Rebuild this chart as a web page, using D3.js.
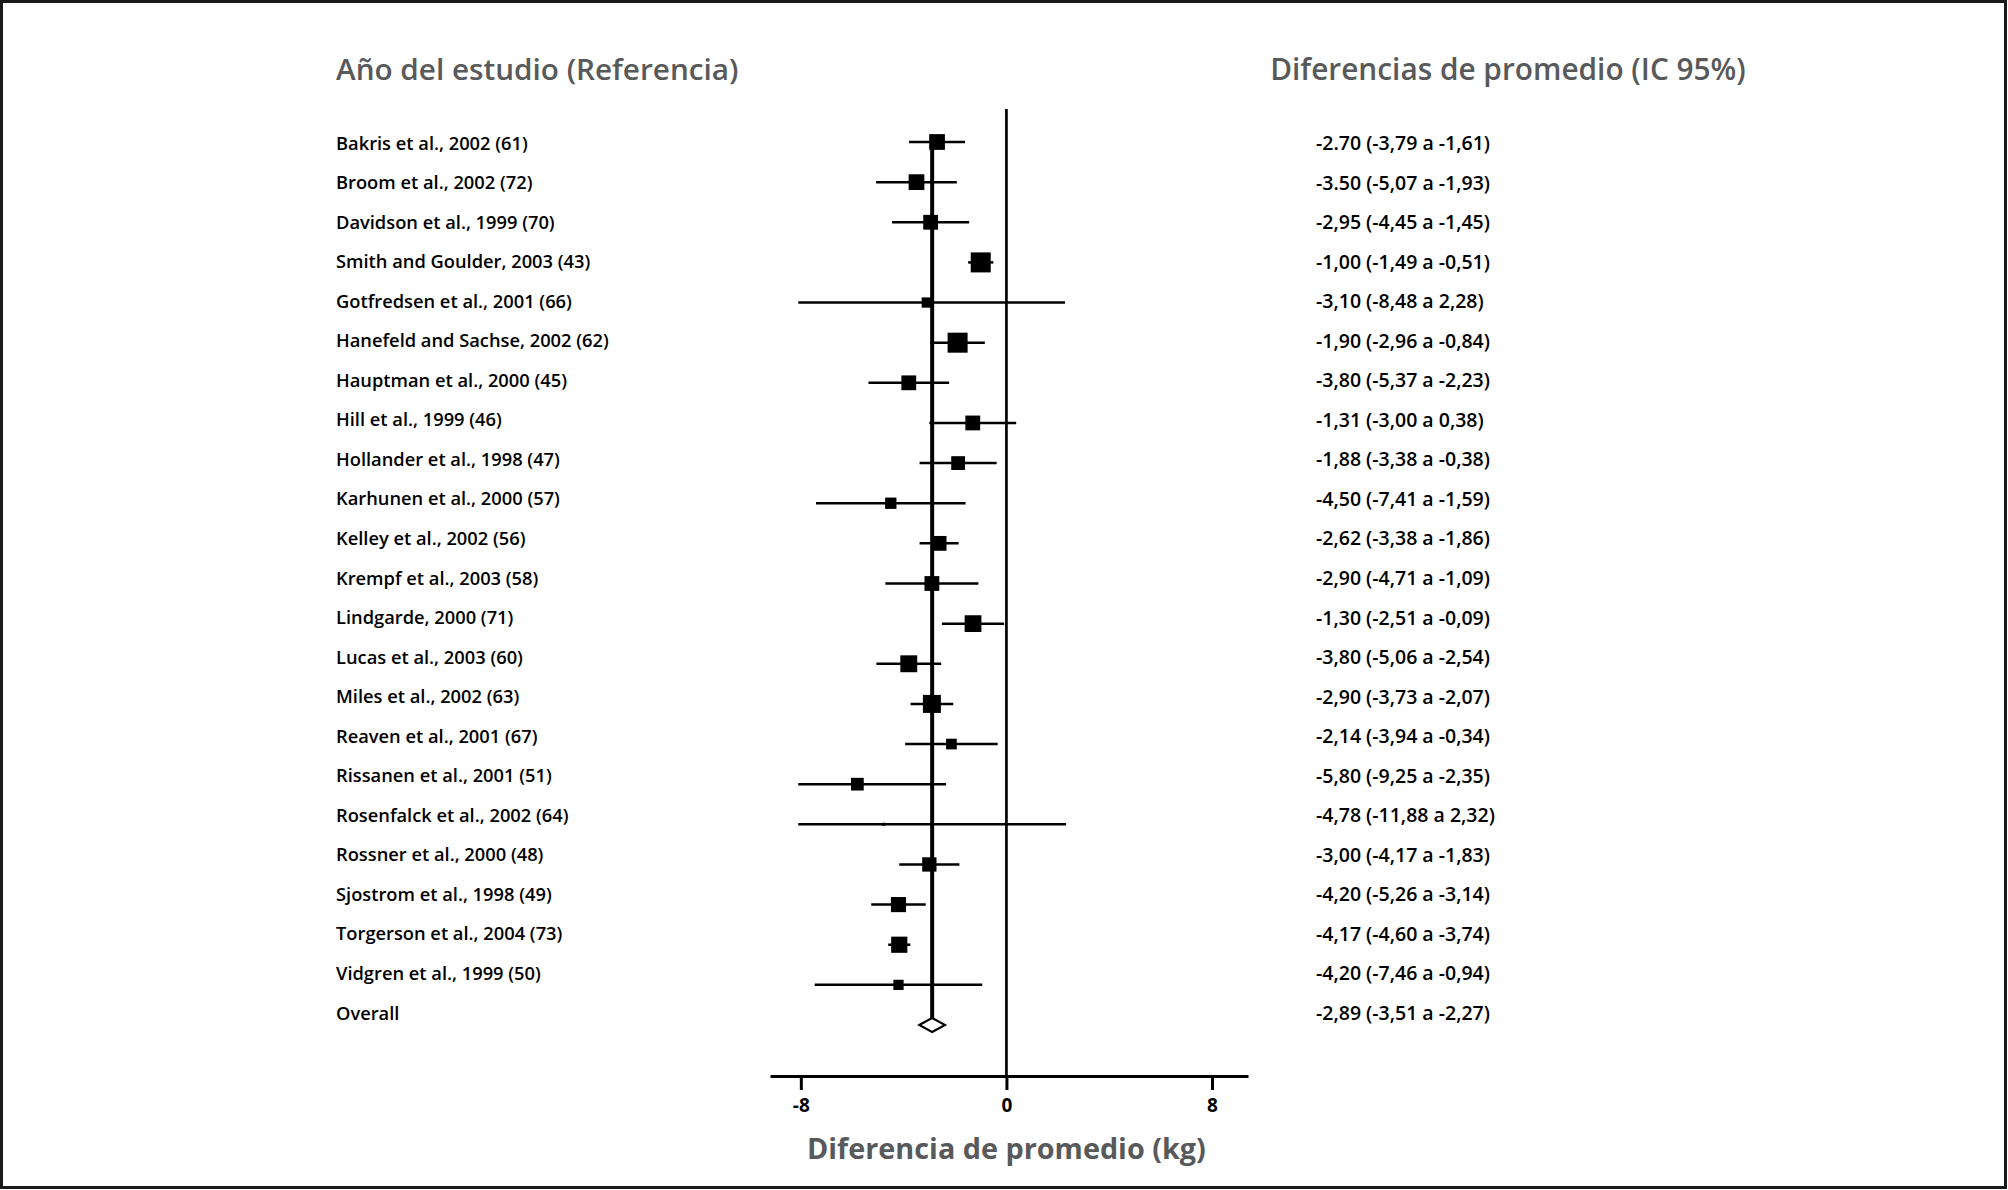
<!DOCTYPE html>
<html>
<head>
<meta charset="utf-8">
<script src="https://cdn.jsdelivr.net/npm/d3@7"></script>
<style>
  html, body { margin: 0; padding: 0; background: #fff; }
  text { font-family: "Open Sans", "Noto Sans", sans-serif; }
</style>
</head>
<body>
<div id="container"></div>
<script>
// studies, top to bottom
const studies = [
  "Bakris et al., 2002 (61)",
  "Broom et al., 2002 (72)",
  "Davidson et al., 1999 (70)",
  "Smith and Goulder, 2003 (43)",
  "Gotfredsen et al., 2001 (66)",
  "Hanefeld and Sachse, 2002 (62)",
  "Hauptman et al., 2000 (45)",
  "Hill et al., 1999 (46)",
  "Hollander et al., 1998 (47)",
  "Karhunen et al., 2000 (57)",
  "Kelley et al., 2002 (56)",
  "Krempf et al., 2003 (58)",
  "Lindgarde, 2000 (71)",
  "Lucas et al., 2003 (60)",
  "Miles et al., 2002 (63)",
  "Reaven et al., 2001 (67)",
  "Rissanen et al., 2001 (51)",
  "Rosenfalck et al., 2002 (64)",
  "Rossner et al., 2000 (48)",
  "Sjostrom et al., 1998 (49)",
  "Torgerson et al., 2004 (73)",
  "Vidgren et al., 1999 (50)",
];
const estimates = [-2.70, -3.50, -2.95, -1.00, -3.10, -1.90, -3.80, -1.31, -1.88, -4.50, -2.62,
  -2.90, -1.30, -3.80, -2.90, -2.14, -5.80, -4.78, -3.00, -4.20, -4.17, -4.20];
const lower = [-3.79, -5.07, -4.45, -1.49, -8.48, -2.96, -5.37, -3.00, -3.38, -7.41, -3.38,
  -4.71, -2.51, -5.06, -3.73, -3.94, -9.25, -11.88, -4.17, -5.26, -4.60, -7.46];
const upper = [-1.61, -1.93, -1.45, -0.51, 2.28, -0.84, -2.23, 0.38, -0.38, -1.59, -1.86,
  -1.09, -0.09, -2.54, -2.07, -0.34, -2.35, 2.32, -1.83, -3.14, -3.74, -0.94];
// box weights (%)
const weights = [5.2, 5.2, 4.6, 8.4, 2.2, 8.4, 4.6, 4.6, 4.0, 2.7, 4.6,
  4.6, 5.9, 6.0, 6.8, 2.4, 3.4, 0.2, 4.3, 4.8, 5.5, 2.2];
const ciLabels = [
  "-2.70 (-3,79 a -1,61)",
  "-3.50 (-5,07 a -1,93)",
  "-2,95 (-4,45 a -1,45)",
  "-1,00 (-1,49 a -0,51)",
  "-3,10 (-8,48 a 2,28)",
  "-1,90 (-2,96 a -0,84)",
  "-3,80 (-5,37 a -2,23)",
  "-1,31 (-3,00 a 0,38)",
  "-1,88 (-3,38 a -0,38)",
  "-4,50 (-7,41 a -1,59)",
  "-2,62 (-3,38 a -1,86)",
  "-2,90 (-4,71 a -1,09)",
  "-1,30 (-2,51 a -0,09)",
  "-3,80 (-5,06 a -2,54)",
  "-2,90 (-3,73 a -2,07)",
  "-2,14 (-3,94 a -0,34)",
  "-5,80 (-9,25 a -2,35)",
  "-4,78 (-11,88 a 2,32)",
  "-3,00 (-4,17 a -1,83)",
  "-4,20 (-5,26 a -3,14)",
  "-4,17 (-4,60 a -3,74)",
  "-4,20 (-7,46 a -0,94)",
];
const overall = { label: "Overall", est: -2.89, lo: -3.51, hi: -2.27, text: "-2,89 (-3,51 a -2,27)" };
const xTicks = [-8, 0, 8];

const width = 2008, height = 1190;
const grey = "#58595b";
const clipLow = -8.1;

const rows = studies.concat([overall.label]);

const svg = d3.select("#container")
  .append("svg")
  .attr("width", width)
  .attr("height", height);

// frame
svg.append("rect")
  .attr("x", 1.5).attr("y", 1.5)
  .attr("width", 2004).attr("height", 1186)
  .style("fill", "none")
  .style("stroke", "#1a1a1a")
  .style("stroke-width", 3);

const x = d3.scaleLinear().domain([-9.2, 9.4]).range([770, 1248]);
// text rows and marker rows drift slightly apart in the original
const yText = d3.scalePoint().domain(rows).range([143, 1013]);
const yMark = d3.scalePoint().domain(rows).range([142, 1025]);
const boxSize = d3.scaleSqrt().domain([0, 8.4]).range([0, 20]);

// headers
svg.append("text")
  .attr("x", 336).attr("y", 80)
  .style("font-size", "29.7px").style("font-weight", 600)
  .style("fill", grey)
  .text("Año del estudio (Referencia)");

svg.append("text")
  .attr("x", 1508).attr("y", 80)
  .attr("text-anchor", "middle")
  .style("font-size", "29.8px").style("font-weight", 600)
  .style("fill", grey)
  .text("Diferencias de promedio (IC 95%)");

// left labels
svg.append("g")
  .selectAll("text")
  .data(rows)
  .enter()
  .append("text")
  .attr("x", 336)
  .attr("y", d => yText(d))
  .attr("dy", "0.36em")
  .style("font-size", "18.3px").style("font-weight", 600)
  .style("fill", "#000")
  .text(d => d);

// right labels
svg.append("g")
  .selectAll("text")
  .data(ciLabels.concat([overall.text]))
  .enter()
  .append("text")
  .attr("x", 1316)
  .attr("y", (d, i) => yText(rows[i]))
  .attr("dy", "0.36em")
  .style("font-size", "19.5px").style("font-weight", 600)
  .style("fill", "#000")
  .text(d => d);

// x axis
const axis = svg.append("g")
  .attr("transform", "translate(0,1076)")
  .call(d3.axisBottom(x).tickValues(xTicks).tickSize(14).tickSizeOuter(0).tickPadding(9).tickFormat(d3.format("d")));
axis.select(".domain").style("stroke", "#000").style("stroke-width", 3);
axis.selectAll(".tick line").style("stroke", "#000").style("stroke-width", 3);
axis.selectAll(".tick text")
  .style("font-family", "'Open Sans', sans-serif")
  .style("font-size", "19px").style("font-weight", 700)
  .style("fill", "#000")
  .text(d => d < 0 ? "-" + Math.abs(d) : d);

svg.append("text")
  .attr("x", x(0)).attr("y", 1159)
  .attr("text-anchor", "middle")
  .style("font-size", "28.8px").style("font-weight", 700)
  .style("fill", grey)
  .text("Diferencia de promedio (kg)");

// null line
svg.append("line")
  .attr("x1", x(0)).attr("x2", x(0))
  .attr("y1", 109).attr("y2", 1076)
  .style("stroke", "#000")
  .style("stroke-width", 2.7);

// overall effect line
svg.append("line")
  .attr("x1", x(overall.est)).attr("x2", x(overall.est))
  .attr("y1", yMark(studies[0]))
  .attr("y2", yMark(overall.label) - 7)
  .style("stroke", "#000")
  .style("stroke-width", 4);

const marks = svg.append("g");

// confidence intervals
marks.selectAll(".ci")
  .data(studies)
  .enter()
  .append("line")
  .attr("class", "ci")
  .attr("x1", (d, i) => x(Math.max(lower[i], clipLow)))
  .attr("x2", (d, i) => x(upper[i]))
  .attr("y1", d => yMark(d))
  .attr("y2", d => yMark(d))
  .style("stroke", "#000")
  .style("stroke-width", 2.5);

// weighted boxes
marks.selectAll(".box")
  .data(studies)
  .enter()
  .append("rect")
  .attr("class", "box")
  .attr("x", (d, i) => x(estimates[i]) - boxSize(weights[i]) / 2)
  .attr("y", (d, i) => yMark(d) - boxSize(weights[i]) / 2)
  .attr("width", (d, i) => boxSize(weights[i]))
  .attr("height", (d, i) => boxSize(weights[i]))
  .style("fill", "#000");

// overall diamond
const yo = yMark(overall.label);
svg.append("path")
  .attr("d", d3.line()([
    [x(overall.lo) + 3, yo],
    [x(overall.est), yo - 7],
    [x(overall.hi) - 3, yo],
    [x(overall.est), yo + 7],
  ]) + "Z")
  .style("fill", "#fff")
  .style("stroke", "#000")
  .style("stroke-width", 2);
</script>
</body>
</html>
